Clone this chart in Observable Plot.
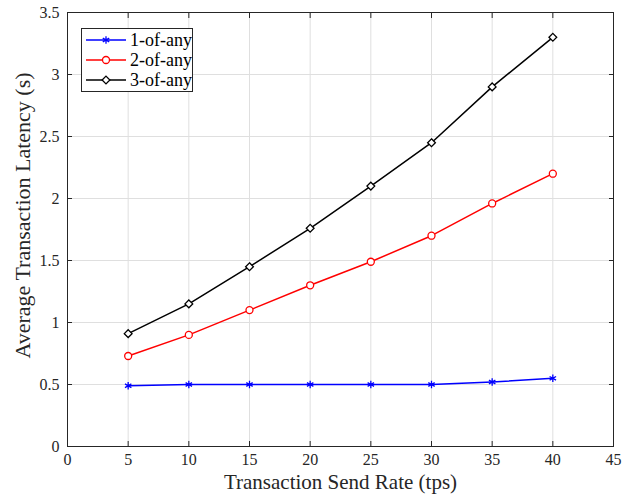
<!DOCTYPE html>
<html><head><meta charset="utf-8">
<script src="https://cdn.jsdelivr.net/npm/d3@7"></script>
<script src="https://cdn.jsdelivr.net/npm/@observablehq/plot@0.6"></script>
<style>
body{margin:0;background:#fff;}
#wrap{position:relative;width:636px;height:499px;}
#wrap, #wrap svg, #wrap text{font-family:'Liberation Serif','Times New Roman','DejaVu Serif',serif !important;}
#legend{position:absolute;left:81px;top:28px;width:110px;height:62px;border:1px solid #262626;background:#fff;}
</style>
</head><body>
<div id="wrap"><div id="chart"></div><div id="legend"></div></div>
<script>
const rates = [5,10,15,20,25,30,35,40];
const series = ["1-of-any","2-of-any","3-of-any"];
const oneOfAny = [0.49,0.50,0.50,0.50,0.50,0.50,0.52,0.55];
const twoOfAny = [0.73,0.90,1.10,1.30,1.49,1.70,1.96,2.20];
const threeOfAny = [0.91,1.15,1.45,1.76,2.10,2.45,2.90,3.30];
const xTicks = [0,5,10,15,20,25,30,35,40,45];
const yTicks = [0,0.5,1,1.5,2,2.5,3,3.5];

const colors = {"1-of-any":"#0000ff","2-of-any":"#ff0000","3-of-any":"#000000"};
const symbols = {"1-of-any":"asterisk","2-of-any":"circle","3-of-any":"diamond2"};
const vals = [oneOfAny,twoOfAny,threeOfAny];
const data = [];
series.forEach((s,i)=>rates.forEach((r,j)=>data.push({series:s,rate:r,lat:vals[i][j]})));

const chart = Plot.plot({
  width:636, height:499,
  marginLeft:67, marginRight:23, marginTop:12, marginBottom:53,
  style:{fontSize:"16px", color:"#262626", background:"#fff"},
  x:{domain:[0,45]},
  y:{domain:[0,3.5]},
  marks:[
    Plot.gridX(xTicks,{stroke:"#dfdfdf",strokeOpacity:1}),
    Plot.gridY(yTicks,{stroke:"#dfdfdf",strokeOpacity:1}),
    Plot.axisX({ticks:xTicks, tickSize:-5, tickPadding:12, label:null, fontSize:16}),
    Plot.axisX({ticks:xTicks, anchor:"top", tickSize:-5, tickFormat:()=>"", label:null}),
    Plot.axisY({ticks:yTicks, tickSize:-5, tickPadding:13, label:null, fontSize:16, tickFormat:d=>String(d)}),
    Plot.axisY({ticks:yTicks, anchor:"right", tickSize:-5, tickFormat:()=>"", label:null}),
    Plot.frame({stroke:"#262626"}),
    Plot.line(data,{x:"rate",y:"lat",z:"series",stroke:d=>colors[d.series],strokeWidth:1.5}),
    Plot.dot(data,{x:"rate",y:"lat",stroke:d=>colors[d.series],symbol:d=>symbols[d.series],fill:d=>d.series==="1-of-any"?"none":"white",r:3.5,strokeWidth:1.3}),
    Plot.text(["Transaction Send Rate (tps)"],{frameAnchor:"bottom",textAnchor:"middle",dy:42,fontSize:21,fill:"#262626"}),
    Plot.text(["Average Transaction Latency (s)"],{frameAnchor:"left",textAnchor:"middle",dx:-45,dy:-14,rotate:-90,fontSize:22,fill:"#262626"})
  ],
  color:{type:"identity"},
  symbol:{type:"identity"}
});
document.getElementById("chart").appendChild(chart);

// legend
const lg = d3.select("#legend").append("svg").attr("width",110).attr("height",62);
const symGen = {"1-of-any":d3.symbolAsterisk,"2-of-any":d3.symbolCircle,"3-of-any":d3.symbolDiamond2};
series.forEach((s,i)=>{
  const y = 11 + i*20;
  lg.append("line").attr("x1",4).attr("x2",44).attr("y1",y).attr("y2",y).attr("stroke",colors[s]).attr("stroke-width",1.5);
  lg.append("path").attr("d",d3.symbol(symGen[s],(3.5*3.5)*Math.PI)()).attr("transform",`translate(24,${y})`)
    .attr("stroke",colors[s]).attr("stroke-width",1.3).attr("fill",s==="1-of-any"?"none":"white");
  lg.append("text").attr("x",48).attr("y",y).attr("dy","0.35em").attr("font-size",18).attr("fill","#000").text(s);
});
</script>
</body></html>
